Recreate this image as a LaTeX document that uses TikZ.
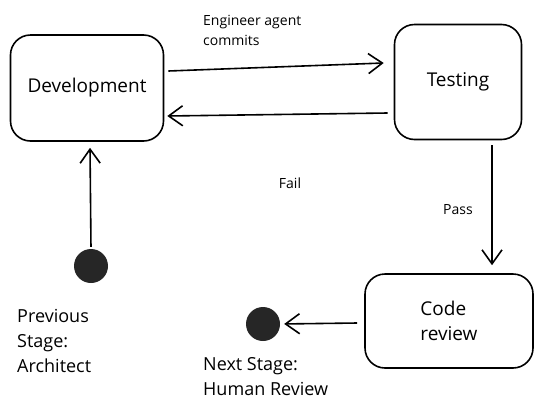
\documentclass[tikz,border=0pt]{standalone}
\usepackage{fontspec}
\setmainfont{Open Sans}
\usetikzlibrary{arrows.meta,positioning}

\begin{document}
\begin{tikzpicture}[x=1pt,y=-1pt,
    stage/.style={draw,line width=1.6pt,rounded corners=20pt,
      font=\fontsize{19}{25}\selectfont},
    dot/.style={circle,fill=black!85,minimum size=34pt,inner sep=0pt},
    small/.style={font=\fontsize{14}{20}\selectfont,align=left,inner sep=0pt},
    note/.style={font=\fontsize{18}{25}\selectfont,align=left,inner sep=0pt},
    flow/.style={-{Straight Barb[length=14pt,width=20pt]},line width=1.6pt}]
  \useasboundingbox (0,0) rectangle (545,413);
  % states
  \node[stage,minimum width=153pt,minimum height=106pt] (dev) at (87,88) {Development};
  \node[stage,minimum width=127pt,minimum height=115pt] (test) at (458,82) {Testing};
  \node[stage,minimum width=168pt,minimum height=94pt,align=left] (review) at (449,321) {Code\\review};
  \node[dot] (prev) at (91,266) {};
  \node[dot] (next) at (263,324) {};
  % transitions
  \draw[flow] ([xshift=4pt,yshift=17pt]dev.east) -- ([xshift=-10pt,yshift=19pt]test.west);
  \draw[flow] ([xshift=-6pt,yshift=-31pt]test.west) -- ([xshift=3pt,yshift=-28pt]dev.east);
  \draw[flow] ([xshift=34pt,yshift=-5pt]test.south) -- ([xshift=43pt,yshift=8pt]review.north);
  \draw[flow,shorten <=2pt] (prev.north) -- ([xshift=3pt,yshift=-6pt]dev.south);
  \draw[flow,shorten >=4pt] ([xshift=-7pt,yshift=-2pt]review.west) -- (next.east);
  % labels
  \node[small,anchor=west] (commit) at (203,30) {Engineer agent\\commits};
  \node[small] (fail) at (290,183) {Fail};
  \node[small] (pass) at (458,210) {Pass};
  \node[note,anchor=north west] (prevtxt) at (17,309) {Previous\\Stage:\\Architect};
  \node[note,anchor=north west] (nexttxt) at (203,357) {Next Stage:\\Human Review};
\end{tikzpicture}
\end{document}
